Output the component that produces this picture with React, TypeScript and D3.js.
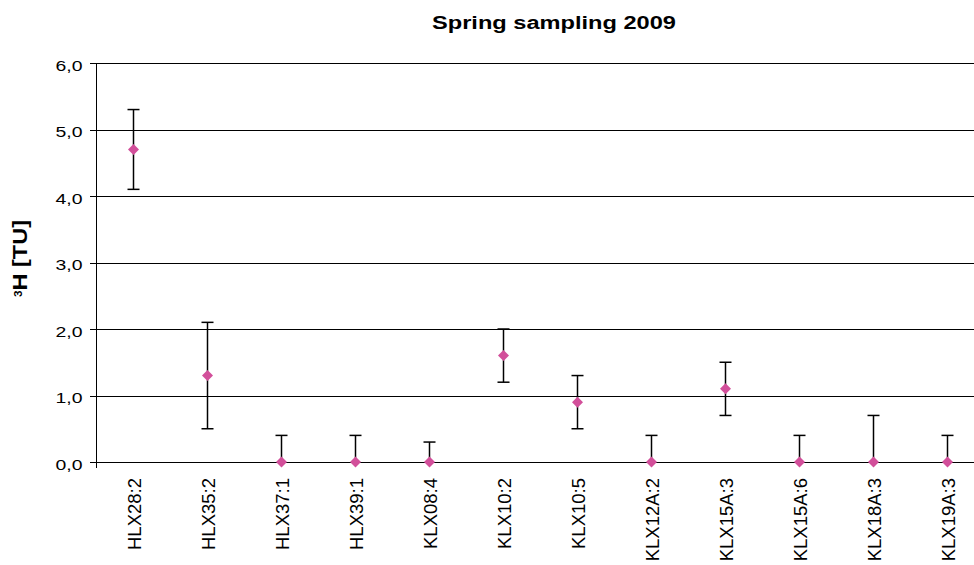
import React from "react";
import * as d3 from "d3";

const categories = ["HLX28:2","HLX35:2","HLX37:1","HLX39:1","KLX08:4","KLX10:2","KLX10:5","KLX12A:2","KLX15A:3","KLX15A:6","KLX18A:3","KLX19A:3"];
const values = [4.7, 1.3, 0, 0, 0, 1.6, 0.9, 0, 1.1, 0, 0, 0];
const errLow = [4.1, 0.5, 0, 0, 0, 1.2, 0.5, 0, 0.7, 0, 0, 0];
const errHigh = [5.3, 2.1, 0.4, 0.4, 0.3, 2.0, 1.3, 0.4, 1.5, 0.4, 0.7, 0.4];
const yTicks = [0, 1, 2, 3, 4, 5, 6];

const W = 974, H = 565;
const left = 96.5, top = 63, bottom = 462;

export default function App() {
  const x = d3.scaleBand<string>().domain(categories).range([left, left + 74 * categories.length]).padding(0);
  const y = d3.scaleLinear().domain([0, 6]).range([bottom, top]);
  const fmt = (v: number) => v.toFixed(1).replace(".", ",");
  const font = "'Liberation Sans', Arial, sans-serif";
  const cx = (c: string) => (x(c) as number) + x.bandwidth() / 2;
  const diamond = (px: number, py: number, r: number) => {
    const p = d3.path();
    p.moveTo(px, py - r);
    p.lineTo(px + r, py);
    p.lineTo(px, py + r);
    p.lineTo(px - r, py);
    p.closePath();
    return p.toString();
  };
  return (
    <svg width={W} height={H} style={{ position: "absolute", left: 0, top: 0, background: "#fff" }} fontFamily={font}>
      <text x={554} y={28.5} fontSize={17.5} fontWeight="bold" textAnchor="middle" textLength={244} lengthAdjust="spacingAndGlyphs">Spring sampling 2009</text>
      {yTicks.map((t) => (
        <g key={t}>
          <line x1={left} x2={W} y1={Math.round(y(t)) + 0.5} y2={Math.round(y(t)) + 0.5} stroke="#000" strokeWidth={1} />
          <line x1={90} x2={left} y1={Math.round(y(t)) + 0.5} y2={Math.round(y(t)) + 0.5} stroke="#000" strokeWidth={1} />
          <text x={82.5} y={y(t) + 7.8} fontSize={15.5} textAnchor="end" textLength={27} lengthAdjust="spacingAndGlyphs">{fmt(t)}</text>
        </g>
      ))}
      <line x1={left} x2={left} y1={top} y2={bottom + 6} stroke="#000" strokeWidth={1} />
      <text transform={`translate(26.5,${258.5}) rotate(-90)`} fontSize={20} fontWeight="bold" textAnchor="middle" textLength={77} lengthAdjust="spacingAndGlyphs">
        <tspan fontSize={10} dy={-5}>3</tspan><tspan dy={5}>H [TU]</tspan>
      </text>
      {categories.map((c) => (
        <text key={c} transform={`translate(${cx(c) + 7.5},478) rotate(-90)`} fontSize={18.5} textAnchor="end">{c}</text>
      ))}
      {categories.map((c, i) => {
        const px = cx(c);
        return (
          <g key={c}>
            <line x1={px} x2={px} y1={y(errLow[i])} y2={y(errHigh[i])} stroke="#000" strokeWidth={1.5} />
            <line x1={px - 6} x2={px + 6} y1={y(errHigh[i])} y2={y(errHigh[i])} stroke="#000" strokeWidth={1.5} />
            {errLow[i] < values[i] && (
              <line x1={px - 6} x2={px + 6} y1={y(errLow[i])} y2={y(errLow[i])} stroke="#000" strokeWidth={1.5} />
            )}
            <path d={diamond(px, y(values[i]), 5.5)} fill="#d24f9a" />
          </g>
        );
      })}
    </svg>
  );
}
